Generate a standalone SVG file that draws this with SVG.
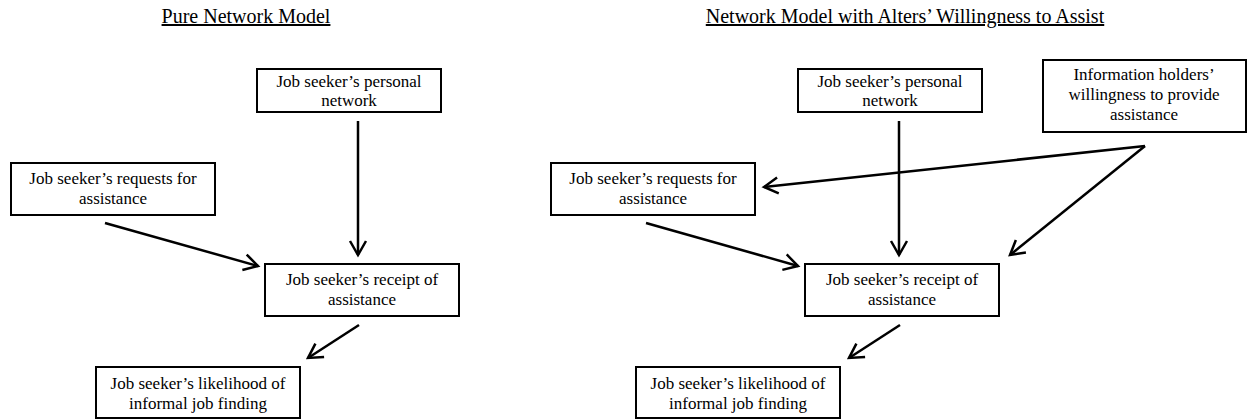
<svg xmlns="http://www.w3.org/2000/svg" width="1247" height="419" viewBox="0 0 1247 419">
<style>
.box{fill:#fff;stroke:#000;stroke-width:2}
.t{font-family:"Liberation Serif","Times New Roman",serif;font-size:17px;fill:#000;text-anchor:middle}
.title{font-family:"Liberation Serif","Times New Roman",serif;font-size:20px;fill:#000;text-anchor:middle;text-decoration:underline}
.c{stroke:#000;stroke-width:2.5;fill:none;marker-end:url(#ah)}
</style>
<defs>
<marker id="ah" markerUnits="userSpaceOnUse" markerWidth="20" markerHeight="20" viewBox="0 0 20 20" refX="17" refY="10" orient="auto">
<path d="M3,2 L17,10 L3,18" fill="none" stroke="#000" stroke-width="2.5"/>
</marker>
</defs>
<rect width="1247" height="419" fill="#fff"/>
<text class="title" x="246" y="23">Pure Network Model</text>
<text class="title" x="905" y="23">Network Model with Alters’ Willingness to Assist</text>

<g id="connectors">
<line class="c" x1="358" y1="121" x2="358" y2="255"/>
<line class="c" x1="105" y1="223" x2="258" y2="266"/>
<line class="c" x1="359" y1="325" x2="308" y2="358"/>
<line class="c" x1="899" y1="121" x2="899" y2="255"/>
<line class="c" x1="646" y1="223" x2="798" y2="266"/>
<line class="c" x1="900" y1="325" x2="849" y2="358"/>
<line class="c" x1="1145" y1="146" x2="764" y2="187"/>
<line class="c" x1="1145" y1="146" x2="1010" y2="255"/>
</g>

<g id="l-network">
<rect class="box" x="257" y="69" width="184" height="43"/>
<text class="t" x="349" y="87">Job seeker’s personal</text>
<text class="t" x="349" y="106">network</text>
</g>
<g id="l-requests">
<rect class="box" x="11" y="163" width="204" height="52"/>
<text class="t" x="113" y="184">Job seeker’s requests for</text>
<text class="t" x="113" y="204">assistance</text>
</g>
<g id="l-receipt">
<rect class="box" x="265" y="264" width="194" height="52"/>
<text class="t" x="362" y="285">Job seeker’s receipt of</text>
<text class="t" x="362" y="305">assistance</text>
</g>
<g id="l-likelihood">
<rect class="box" x="96" y="367" width="204" height="51"/>
<text class="t" x="198" y="389">Job seeker’s likelihood of</text>
<text class="t" x="198" y="409">informal job finding</text>
</g>

<g id="r-network">
<rect class="box" x="798" y="69" width="184" height="43"/>
<text class="t" x="890" y="87">Job seeker’s personal</text>
<text class="t" x="890" y="106">network</text>
</g>
<g id="r-info">
<rect class="box" x="1043" y="60" width="203" height="72"/>
<text class="t" x="1144" y="80">Information holders’</text>
<text class="t" x="1144" y="100">willingness to provide</text>
<text class="t" x="1144" y="120">assistance</text>
</g>
<g id="r-requests">
<rect class="box" x="551" y="163" width="204" height="52"/>
<text class="t" x="653" y="184">Job seeker’s requests for</text>
<text class="t" x="653" y="204">assistance</text>
</g>
<g id="r-receipt">
<rect class="box" x="805" y="264" width="194" height="52"/>
<text class="t" x="902" y="285">Job seeker’s receipt of</text>
<text class="t" x="902" y="305">assistance</text>
</g>
<g id="r-likelihood">
<rect class="box" x="636" y="367" width="204" height="51"/>
<text class="t" x="738" y="389">Job seeker’s likelihood of</text>
<text class="t" x="738" y="409">informal job finding</text>
</g>
</svg>
